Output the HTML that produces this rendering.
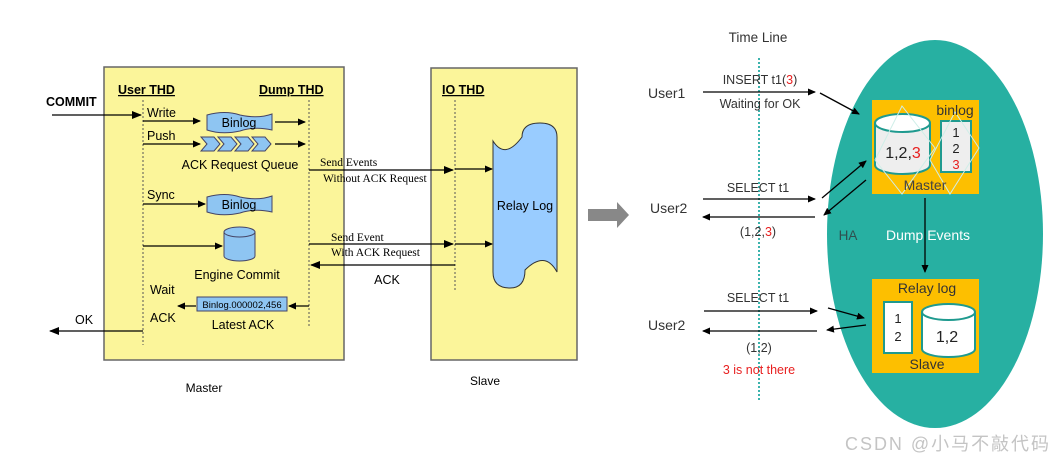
<!DOCTYPE html>
<html><head><meta charset="utf-8"><style>
html,body{margin:0;padding:0;background:#fff;width:1053px;height:461px;overflow:hidden}
svg{display:block}
.a{font-family:"Liberation Sans",sans-serif;fill:#000}
.s{font-family:"Liberation Serif",serif;fill:#000}
.n{font-family:"Liberation Sans","Noto Sans CJK SC",sans-serif}
</style></head><body>
<svg width="1053" height="461" viewBox="0 0 1053 461" xmlns="http://www.w3.org/2000/svg">
<defs>
<marker id="ah" markerWidth="10" markerHeight="8" refX="9" refY="4" orient="auto" markerUnits="userSpaceOnUse"><path d="M0,0 L10,4 L0,8 z" fill="#000"/></marker>
<marker id="ah2" markerWidth="8" markerHeight="7" refX="7" refY="3.5" orient="auto" markerUnits="userSpaceOnUse"><path d="M0,0 L8,3.5 L0,7 z" fill="#000"/></marker>
</defs>
<rect x="104" y="67" width="240" height="293" fill="#fbf59a" stroke="#666" stroke-width="1.5"/>
<rect x="431" y="68" width="146" height="292" fill="#fbf59a" stroke="#666" stroke-width="1.5"/>
<g class="a" font-weight="bold" font-size="12.5">
<text x="118" y="94" text-decoration="underline">User THD</text>
<text x="259" y="94" text-decoration="underline">Dump THD</text>
<text x="442" y="94" text-decoration="underline">IO THD</text>
<text x="46" y="106">COMMIT</text>
</g>
<g stroke="#555" stroke-width="1" stroke-dasharray="2,2">
<line x1="143" y1="100" x2="143" y2="345"/>
<line x1="309" y1="100" x2="309" y2="328"/>
<line x1="455" y1="100" x2="455" y2="290"/>
</g>
<g stroke="#000" stroke-width="1.2" fill="none">
<line x1="52" y1="115" x2="141" y2="115" marker-end="url(#ah)"/>
<line x1="143" y1="121" x2="200" y2="121" marker-end="url(#ah2)"/>
<line x1="275" y1="122" x2="305" y2="122" marker-end="url(#ah2)"/>
<line x1="143" y1="144" x2="200" y2="144" marker-end="url(#ah2)"/>
<line x1="275" y1="144" x2="305" y2="144" marker-end="url(#ah2)"/>
<line x1="143" y1="204" x2="205" y2="204" marker-end="url(#ah2)"/>
<line x1="143" y1="246" x2="222" y2="246" marker-end="url(#ah2)"/>
<line x1="309" y1="306" x2="289" y2="306" marker-end="url(#ah2)"/>
<line x1="196" y1="306" x2="178" y2="306" marker-end="url(#ah2)"/>
<line x1="143" y1="331" x2="50" y2="331" marker-end="url(#ah)"/>
<line x1="309" y1="170" x2="453" y2="170" marker-end="url(#ah)"/>
<line x1="455" y1="169" x2="492" y2="169" marker-end="url(#ah2)"/>
<line x1="309" y1="244" x2="453" y2="244" marker-end="url(#ah)"/>
<line x1="455" y1="244" x2="492" y2="244" marker-end="url(#ah2)"/>
<line x1="455" y1="265" x2="311" y2="265" marker-end="url(#ah)"/>
</g>
<path d="M207,115 Q225,110 240,115 Q258,119 272,114 L272,130 Q255,126 240,131 Q222,135 207,130 Z" fill="#8ec5f2" stroke="#446" stroke-width="1"/>
<path d="M207,197 Q225,192 240,197 Q258,201 272,196 L272,212 Q255,208 240,213 Q222,217 207,212 Z" fill="#8ec5f2" stroke="#446" stroke-width="1"/>
<g fill="#8ec5f2" stroke="#446" stroke-width="1">
<path d="M201,137 L214,137 L220,144 L214,151 L201,151 L207,144 Z"/>
<path d="M218,137 L231,137 L237,144 L231,151 L218,151 L224,144 Z"/>
<path d="M235,137 L248,137 L254,144 L248,151 L235,151 L241,144 Z"/>
<path d="M252,137 L265,137 L271,144 L265,151 L252,151 L258,144 Z"/>
</g>
<path d="M224,232 L224,256 A15.5,5 0 0 0 255,256 L255,232" fill="#8ec5f2" stroke="#446"/>
<ellipse cx="239.5" cy="232" rx="15.5" ry="5" fill="#8ec5f2" stroke="#446"/>
<rect x="197" y="297" width="90" height="14" fill="#8ec5f2" stroke="#446"/>
<text class="a" x="242" y="308" font-size="9.5" text-anchor="middle">Binlog.000002,456</text>
<path d="M493,141 Q505,160 522,137 Q522,123 540,123 Q557,123 557,137 L557,272 Q545,250 525,270 Q525,288 510,288 Q493,288 493,272 Z" fill="#99ccff" stroke="#333" stroke-width="1"/>
<g class="a" font-size="12.5">
<text x="147" y="117">Write</text>
<text x="147" y="140">Push</text>
<text x="239" y="127" text-anchor="middle">Binlog</text>
<text x="239" y="209" text-anchor="middle">Binlog</text>
<text x="240" y="169" text-anchor="middle">ACK Request Queue</text>
<text x="147" y="199">Sync</text>
<text x="237" y="279" text-anchor="middle">Engine Commit</text>
<text x="150" y="294">Wait</text>
<text x="150" y="322">ACK</text>
<text x="243" y="329" text-anchor="middle">Latest ACK</text>
<text x="75" y="324">OK</text>
<text x="387" y="284" text-anchor="middle">ACK</text>
<text x="525" y="210" text-anchor="middle">Relay Log</text>
<text x="204" y="392" text-anchor="middle" font-size="12">Master</text>
<text x="485" y="385" text-anchor="middle" font-size="12">Slave</text>
</g>
<g class="s" font-size="11.5">
<text x="320" y="166">Send Events</text>
<text x="323" y="182">Without ACK Request</text>
<text x="331" y="241">Send Event</text>
<text x="331" y="256">With ACK Request</text>
</g>
<path d="M588,209 L617,209 L617,202 L629,215 L617,228 L617,221 L588,221 Z" fill="#888"/>
<ellipse cx="935" cy="234" rx="108" ry="194" fill="#27b0a2"/>
<line x1="759" y1="58" x2="759" y2="400" stroke="#3bb3ad" stroke-width="2" stroke-dasharray="2,2"/>
<g class="n" fill="#333">
<text x="758" y="42" font-size="13.5" text-anchor="middle">Time Line</text>
<text x="648" y="98" font-size="14">User1</text>
<text x="650" y="213" font-size="14">User2</text>
<text x="648" y="330" font-size="14">User2</text>
<text x="760" y="84" font-size="12.5" text-anchor="middle">INSERT t1(<tspan fill="#e82020">3</tspan>)</text>
<text x="760" y="108" font-size="12.5" text-anchor="middle">Waiting for OK</text>
<text x="758" y="192" font-size="12.5" text-anchor="middle">SELECT t1</text>
<text x="758" y="236" font-size="12.5" text-anchor="middle">(1,2,<tspan fill="#e82020">3</tspan>)</text>
<text x="758" y="302" font-size="12.5" text-anchor="middle">SELECT t1</text>
<text x="759" y="352" font-size="12.5" text-anchor="middle">(1,2)</text>
<text x="759" y="374" font-size="12.5" text-anchor="middle" fill="#e82020">3 is not there</text>
<text x="848" y="240" font-size="13.5" text-anchor="middle" fill="#2f4f4f">HA</text>
<text x="928" y="240" font-size="14" text-anchor="middle" fill="#fff">Dump Events</text>
</g>
<g stroke="#000" stroke-width="1.3">
<line x1="703" y1="92" x2="815" y2="92" marker-end="url(#ah2)"/>
<line x1="703" y1="199" x2="815" y2="199" marker-end="url(#ah2)"/>
<line x1="815" y1="217" x2="703" y2="217" marker-end="url(#ah2)"/>
<line x1="704" y1="311" x2="817" y2="311" marker-end="url(#ah2)"/>
<line x1="817" y1="331" x2="703" y2="331" marker-end="url(#ah2)"/>
<line x1="820" y1="93" x2="859" y2="114" marker-end="url(#ah2)"/>
<line x1="822" y1="198" x2="866" y2="161" marker-end="url(#ah2)"/>
<line x1="866" y1="180" x2="824" y2="215" marker-end="url(#ah2)"/>
<line x1="828" y1="308" x2="864" y2="318" marker-end="url(#ah2)"/>
<line x1="866" y1="325" x2="827" y2="330" marker-end="url(#ah2)"/>
<line x1="925" y1="198" x2="925" y2="272" marker-end="url(#ah2)"/>
</g>
<rect x="872" y="100" width="107" height="94" fill="#fdbf00"/>
<path d="M875,123 L875,165 A27.5,9 0 0 0 930,165 L930,123" fill="#eee" stroke="#1f9a8f" stroke-width="2"/>
<ellipse cx="902.5" cy="123" rx="27.5" ry="9" fill="#fff" stroke="#1f9a8f" stroke-width="2"/>
<rect x="941" y="121" width="30" height="51" fill="#eee" stroke="#1f9a8f" stroke-width="2"/>
<g fill="none" stroke="#cfeee8" stroke-width="1">
<path d="M902,106 L935,148 L902,194 L875,160 Z"/>
<path d="M955,112 L979,148 L950,194 L930,160 Z"/>
</g>
<g class="n" fill="#222">
<text x="955" y="115" font-size="14" text-anchor="middle" fill="#333">binlog</text>
<text x="903" y="158" font-size="16" text-anchor="middle">1,2,<tspan fill="#e82020">3</tspan></text>
<text x="956" y="137" font-size="13" text-anchor="middle">1</text>
<text x="956" y="153" font-size="13" text-anchor="middle">2</text>
<text x="956" y="169" font-size="13" text-anchor="middle" fill="#e82020">3</text>
<text x="925" y="190" font-size="14" text-anchor="middle" fill="#444">Master</text>
</g>
<rect x="872" y="279" width="107" height="94" fill="#fdbf00"/>
<rect x="884" y="302" width="28" height="51" fill="#fff" stroke="#1f9a8f" stroke-width="2"/>
<path d="M922,312 L922,349 A26.5,8 0 0 0 975,349 L975,312" fill="#fff" stroke="#1f9a8f" stroke-width="2"/>
<ellipse cx="948.5" cy="312" rx="26.5" ry="8" fill="#fff" stroke="#1f9a8f" stroke-width="2"/>
<g class="n" fill="#222">
<text x="927" y="293" font-size="14" text-anchor="middle" fill="#333">Relay log</text>
<text x="898" y="323" font-size="13" text-anchor="middle">1</text>
<text x="898" y="341" font-size="13" text-anchor="middle">2</text>
<text x="947" y="342" font-size="16" text-anchor="middle">1,2</text>
<text x="927" y="369" font-size="14" text-anchor="middle" fill="#333">Slave</text>
</g>
<text class="n" x="845" y="450" font-size="18" fill="#c4c4c4" textLength="204">CSDN @小马不敲代码</text>
</svg>
</body></html>
